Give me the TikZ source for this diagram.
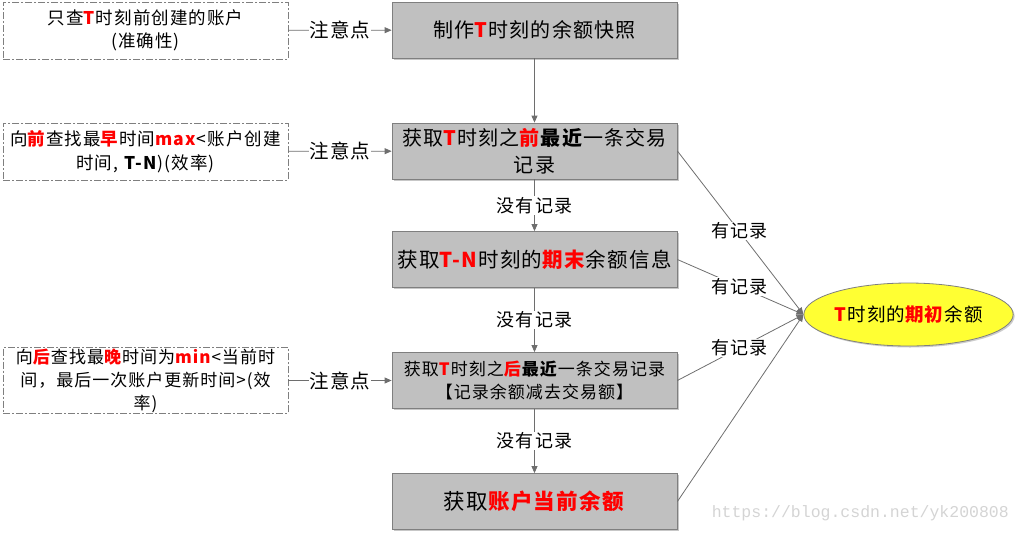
\documentclass[tikz,border=0pt]{standalone}
\usepackage{fontspec}
\setmainfont{Noto Sans CJK SC}[LetterSpace=6]
\newfontfamily\wmfont{Liberation Mono}
\usetikzlibrary{shadows,arrows.meta,shapes.geometric}
\definecolor{boxgray}{HTML}{C0C0C0}
\definecolor{bordergray}{HTML}{7F7F7F}
\definecolor{linegray}{HTML}{6E6E6E}
\definecolor{ellyellow}{HTML}{FFFF33}
\newcommand\redb[1]{\textcolor{red}{\textbf{#1}}}
\begin{document}
\begin{tikzpicture}[x=1pt,y=-1pt,
  mainbox/.style={draw=bordergray, line width=0.8pt, fill=boxgray, minimum width=285pt, minimum height=56pt,
    inner sep=2pt, align=center, drop shadow={shadow xshift=1.5pt, shadow yshift=-1.5pt, fill=black!22, opacity=1}},
  notebox/.style={draw=bordergray, line width=0.8pt, dash pattern=on 7pt off 2pt on 2pt off 2pt, fill=white,
    minimum width=285pt, minimum height=57pt, inner sep=1pt, align=center,
    font=\fontsize{17.5}{23.5}\selectfont},
  conn/.style={draw=linegray, line width=0.8pt, -{Triangle[length=7pt,width=6pt]}},
  lab/.style={fill=white, inner sep=1pt, font=\fontsize{18}{20}\selectfont},
  note/.style={fill=white, inner sep=1pt, font=\fontsize{19.5}{21}\selectfont}]
\useasboundingbox (0,0) rectangle (1019,533);

% main column
\node[mainbox, font=\fontsize{20}{27}\selectfont] (m1) at (534.5,30) {制作\redb{T}时刻的余额快照};
\node[mainbox, font=\fontsize{20}{27}\selectfont] (m2) at (534.5,151) {获取\redb{T}时刻之\redb{前}\textbf{最近}一条交易\\记录};
\node[mainbox, font=\fontsize{20.5}{27}\selectfont] (m3) at (534.5,259.5) {获取\redb{T-N}时刻的\redb{期末}余额信息};
\node[mainbox, font=\fontsize{17}{23}\selectfont] (m4) at (534.5,380.5) {获取\redb{T}时刻之\redb{后}\textbf{最近}一条交易记录\\【记录余额减去交易额】};
\node[mainbox, font=\fontsize{21.5}{27}\selectfont] (m5) at (534.5,501.5) {获取\redb{账户当前余额}};

% notes
\node[notebox] (n1) at (145.5,30.5) {只查\redb{T}时刻前创建的账户\\(准确性)};
\node[notebox] (n2) at (145.5,151.5) {向\redb{前}查找最\redb{早}时间\redb{max}<账户创建\\时间, \textbf{T-N})(效率)};
\node[notebox, font=\fontsize{17}{23}\selectfont] (n3) at (145.5,380.5) {向\redb{后}查找最\redb{晚}时间为\redb{min}<当前时\\间，最后一次账户更新时间>(效\\率)};

% result ellipse
\node[ellipse, draw=bordergray, line width=0.8pt, fill=ellyellow, minimum width=205pt, minimum height=63pt,
  inner sep=0pt, font=\fontsize{18.5}{22}\selectfont,
  drop shadow={shadow xshift=1.5pt, shadow yshift=-1.5pt, fill=black!20, opacity=1}] (res) at (908.5,314.5)
  {\redb{T}时刻的\redb{期初}余额};

% note connectors
\draw[conn] (n1) -- node[note]{注意点} (m1);
\draw[conn] (n2) -- node[note]{注意点} (m2);
\draw[conn] (n3.east) -- node[note]{注意点} (m4.west);

% vertical flow
\draw[conn] (m1) -- (m2);
\draw[conn] (m2) -- node[lab]{没有记录} (m3);
\draw[conn] (m3) -- node[lab]{没有记录} (m4);
\draw[conn] (m4) -- node[lab]{没有记录} (m5);

% to result
\draw[conn] (m2.east) -- node[lab, pos=0.49]{有记录} (res.west);
\draw[conn] (m3.east) -- node[lab, pos=0.49]{有记录} (res.west);
\draw[conn] (m4.east) -- node[lab, pos=0.49]{有记录} (res.west);
\draw[conn] (m5.east) -- (res.west);

% watermark
\node[text=black!17, font=\wmfont\fontsize{16.5}{18}\selectfont, anchor=east, inner sep=0pt] (wm) at (1009,513) {https://blog.csdn.net/yk200808};
\end{tikzpicture}
\end{document}
